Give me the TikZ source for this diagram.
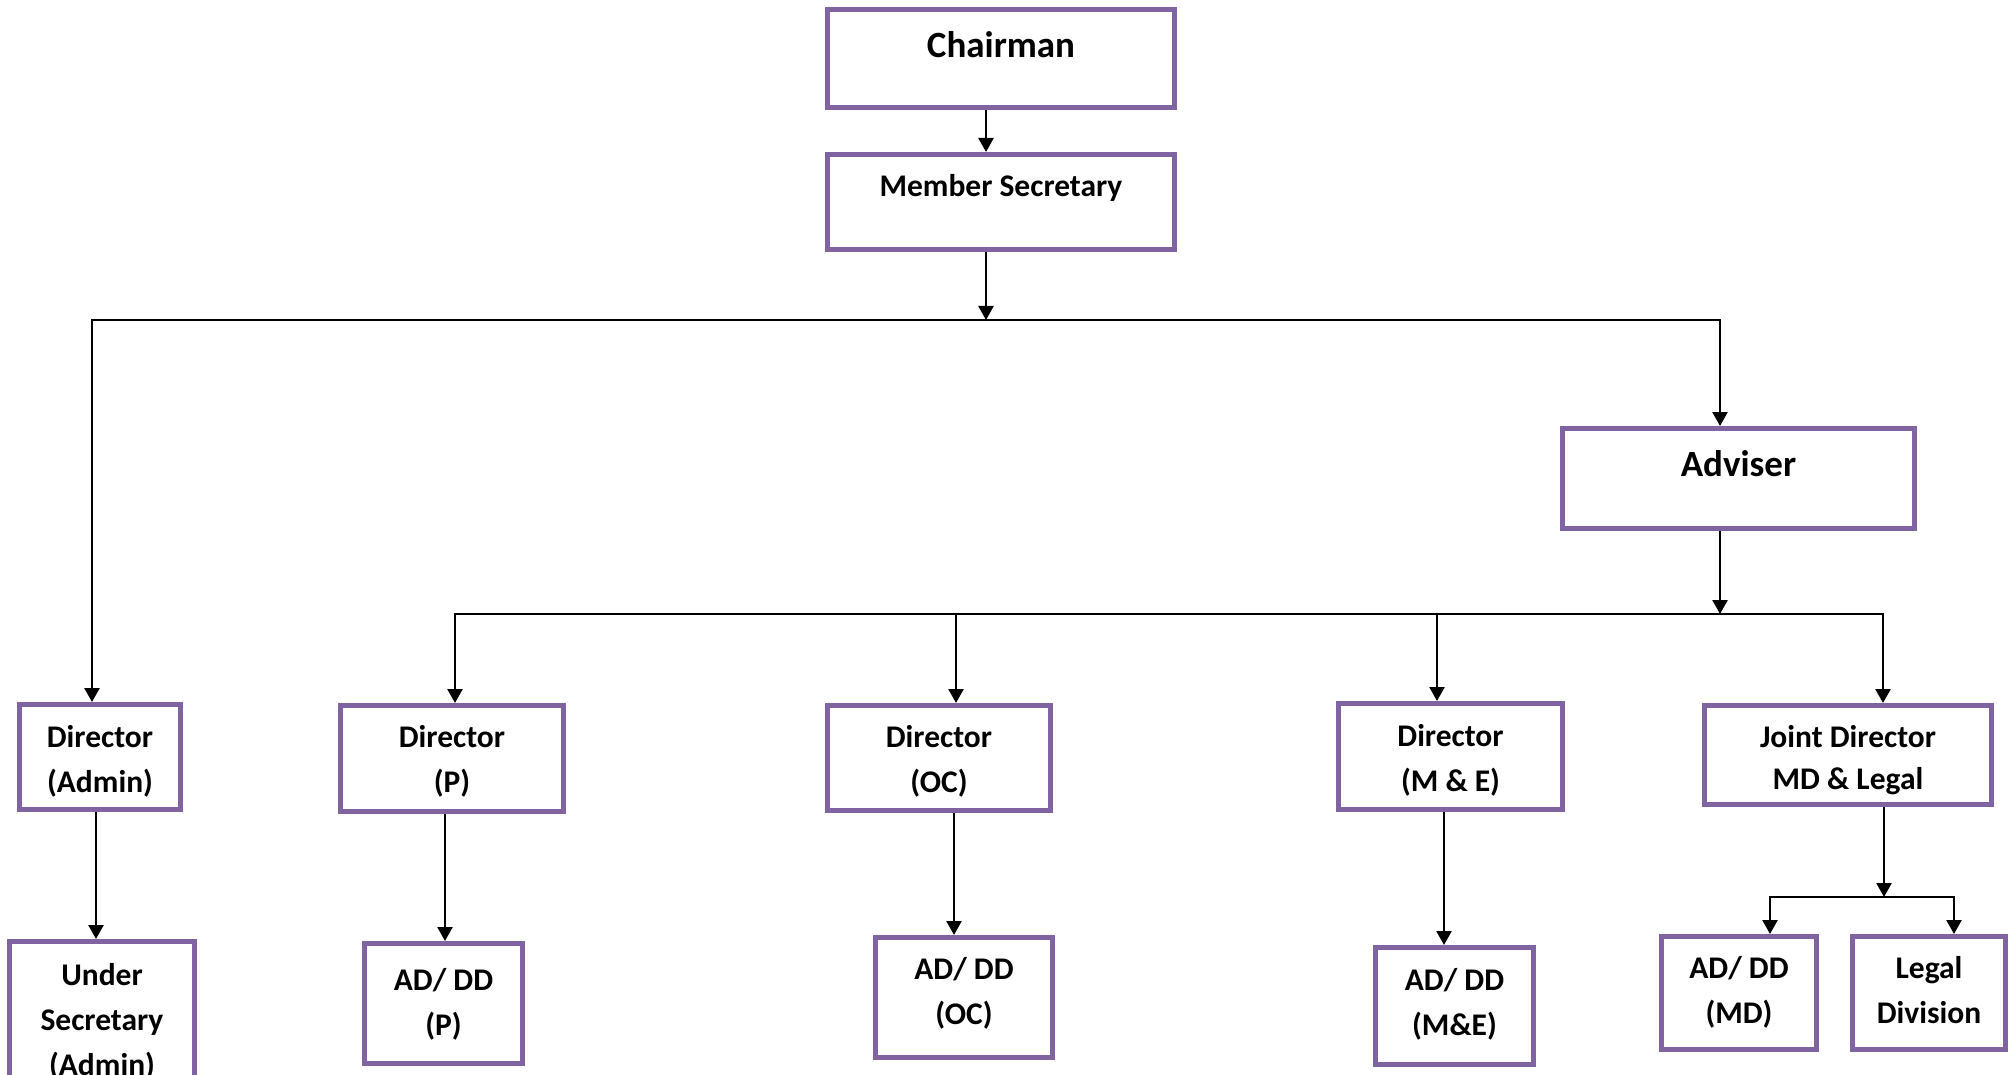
\documentclass[tikz,border=0pt]{standalone}
\usepackage{fontspec}
\setmainfont{Carlito}
\usetikzlibrary{arrows.meta}
\definecolor{boxpurple}{HTML}{8064A2}
\newcommand{\twoline}[2]{\begin{tabular}[t]{@{}c@{}}#1\\#2\end{tabular}}
\begin{document}
\begin{tikzpicture}[x=1pt,y=-1pt,
  box/.style={draw=boxpurple, line width=5pt, rectangle, inner sep=0pt, fill=white},
  lbl/.style={font=\bfseries\fontsize{31.5}{45}\selectfont, inner sep=0pt, anchor=base},
  biglbl/.style={font=\bfseries\fontsize{37}{45}\selectfont, inner sep=0pt, anchor=base},
  conn/.style={line width=2.5pt, -{Triangle[width=15pt,length=14pt]}},
  bus/.style={line width=2.2pt, line cap=rect}]
\useasboundingbox (0,0) rectangle (2011,1075);
\fill[white] (0,0) rectangle (2011,1075);

% boxes
\node[box, minimum width=347pt, minimum height=98pt]  (chair) at (1001,58.5) {};
\node[box, minimum width=347pt, minimum height=95pt]  (ms)    at (1001,202) {};
\node[box, minimum width=352pt, minimum height=100pt] (adv)   at (1738.5,478.5) {};
\node[box, minimum width=161pt, minimum height=105pt] (dA)    at (100,757) {};
\node[box, minimum width=185pt, minimum height=188.5pt] (us)  at (102,1035.75) {};
\node[box, minimum width=223pt, minimum height=106pt] (dP)    at (452,758.5) {};
\node[box, minimum width=158pt, minimum height=120pt] (aP)    at (443.5,1003.5) {};
\node[box, minimum width=223pt, minimum height=105pt] (dOC)   at (939,758) {};
\node[box, minimum width=177pt, minimum height=120pt] (aOC)   at (964,997.5) {};
\node[box, minimum width=224pt, minimum height=106pt] (dME)   at (1450.5,756.5) {};
\node[box, minimum width=158pt, minimum height=117pt] (aME)   at (1454.5,1006) {};
\node[box, minimum width=287pt, minimum height=99pt]  (jd)    at (1848,755) {};
\node[box, minimum width=155pt, minimum height=113pt] (aMD)   at (1739,993) {};
\node[box, minimum width=153pt, minimum height=113pt] (legal) at (1929,993) {};

% texts
\node[biglbl] (chairT) at (1001,58) {Chairman};
\node[lbl] (msT) at (1001,197) {Member Secretary};
\node[biglbl] (advT) at (1738.5,476) {Adviser};
\node[lbl] (dAT) at (100,747) {\twoline{Director}{(Admin)}};
\node[lbl] (usT) at (102,985) {\begin{tabular}[t]{@{}c@{}}Under\\Secretary\\(Admin)\end{tabular}};
\node[lbl] (dPT) at (452,747) {\twoline{Director}{(P)}};
\node[lbl] (aPT) at (443.5,990) {\twoline{AD/ DD}{(P)}};
\node[lbl] (dOCT) at (939,747) {\twoline{Director}{(OC)}};
\node[lbl] (aOCT) at (964,979) {\twoline{AD/ DD}{(OC)}};
\node[lbl] (dMET) at (1450.5,746) {\twoline{Director}{(M \& E)}};
\node[lbl] (aMET) at (1454.5,990) {\twoline{AD/ DD}{(M\&E)}};
\node[lbl] (jdT) at (1848,747) {\twoline{Joint Director}{[-3pt]MD \& Legal}};
\node[lbl] (aMDT) at (1739,978) {\twoline{AD/ DD}{(MD)}};
\node[lbl] (legalT) at (1929,978) {\twoline{Legal}{Division}};

% junction points
\coordinate (b1c) at (986,320);
\coordinate (b1L) at (92,320);
\coordinate (b1R) at (1720,320);
\coordinate (b2c) at (1720,614);
\coordinate (b2a) at (455,614);
\coordinate (b2b) at (956,614);
\coordinate (b2d) at (1437,614);
\coordinate (b2e) at (1883,614);
\coordinate (b3c) at (1884,897);
\coordinate (b3a) at (1770,897);
\coordinate (b3b) at (1954,897);

% connectors
\draw[conn] ([xshift=-15pt]chair.south) -- ([xshift=-15pt]ms.north);
\draw[conn] ([xshift=-15pt]ms.south) -- (b1c);
\draw[bus] (b1L) -- (b1R);
\draw[conn] (b1L) -- (dA.north -| b1L);
\draw[conn] (b1R) -- (adv.north -| b1R);

\draw[conn] (adv.south -| b2c) -- (b2c);
\draw[bus] (b2a) -- (b2e);
\draw[conn] (b2a) -- (dP.north -| b2a);
\draw[conn] (b2b) -- (dOC.north -| b2b);
\draw[conn] (b2d) -- (dME.north -| b2d);
\draw[conn] (b2e) -- (jd.north -| b2e);

\draw[conn] ([xshift=-4pt]dA.south) -- ([xshift=-4pt]dA.south |- us.north);
\draw[conn] ([xshift=-7pt]dP.south) -- ([xshift=-7pt]dP.south |- aP.north);
\draw[conn] ([xshift=15pt]dOC.south) -- ([xshift=15pt]dOC.south |- aOC.north);
\draw[conn] ([xshift=-6.5pt]dME.south) -- ([xshift=-6.5pt]dME.south |- aME.north);

\draw[conn] (jd.south -| b3c) -- (b3c);
\draw[bus] (b3a) -- (b3b);
\draw[conn] (b3a) -- (aMD.north -| b3a);
\draw[conn] (b3b) -- (legal.north -| b3b);
\end{tikzpicture}
\end{document}
